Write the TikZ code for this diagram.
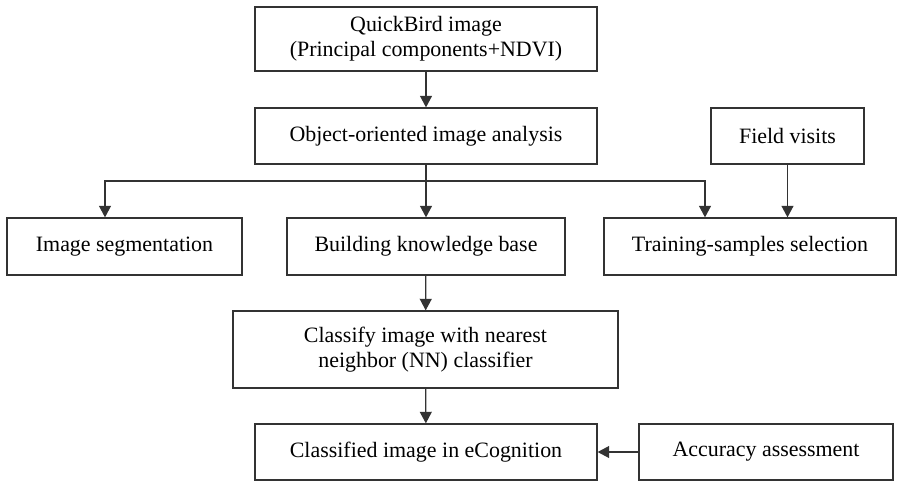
\documentclass[tikz,border=0pt]{standalone}
\usepackage{fontspec}
\setmainfont{Liberation Serif}
\usepackage{tikz}
\usetikzlibrary{arrows.meta, positioning, calc}
\tikzset{
  stepbox/.style={
    draw=black!80, line width=0.9pt, align=center,
    font=\fontsize{15.6}{18}\selectfont, fill=white,
    minimum height=1.4cm, inner sep=2pt
  },
  flowline/.style={
    line width=0.9pt, draw=black!80
  },
  flowarrow/.style={
    -{Triangle[length=2.9mm, width=3mm]}, line width=0.9pt,
    draw=black!80
  },
}
\begin{document}
\begin{tikzpicture}
  \useasboundingbox (0,0) rectangle (22.425,-12.025);

  % Input and analysis
  \node[stepbox, minimum width=8.55cm, minimum height=1.6cm]
    (quickbird) at (10.65,-0.975)
    {QuickBird image\\(Principal components+NDVI)};
  \node[stepbox, minimum width=8.55cm] (ooa) at (10.65,-3.4)
    {Object-oriented image analysis};
  \node[stepbox, minimum width=3.825cm] (field) at (19.6875,-3.4)
    {Field visits};

  % Three branches
  \node[stepbox, minimum width=5.875cm, minimum height=1.425cm]
    (segment) at (3.1125,-6.1625) {Image segmentation};
  \node[stepbox, minimum width=6.95cm, minimum height=1.425cm]
    (knowledge) at (10.65,-6.1625) {Building knowledge base};
  \node[stepbox, minimum width=7.3cm, minimum height=1.425cm]
    (training) at (18.75,-6.1625) {Training-samples selection};

  % Classification
  \node[stepbox, minimum width=9.625cm, minimum height=1.925cm]
    (classify) at (10.6375,-8.7375)
    {Classify image with nearest\\neighbor (NN) classifier};
  \node[stepbox, minimum width=8.55cm] (classified) at (10.65,-11.3)
    {Classified image in eCognition};
  \node[stepbox, minimum width=6.35cm] (accuracy) at (19.15,-11.3)
    {Accuracy assessment};

  % Connectors
  \coordinate (hub) at (10.65,-4.525);
  \draw[flowarrow] (quickbird) -- (ooa);
  \draw[flowline] (ooa.south) -- (hub);
  \draw[flowarrow] (hub) -- (knowledge.north);
  \draw[flowarrow] (hub) -| ([xshift=-0.4875cm]segment.north);
  \draw[flowarrow] (hub) -| ([xshift=-1.125cm]training.north);
  \draw[flowarrow] (field.south) -- (field.south |- training.north);
  \draw[flowarrow] (knowledge) -- (classify);
  \draw[flowarrow] (classify) -- (classified);
  \draw[flowarrow] (accuracy) -- (classified);
\end{tikzpicture}
\end{document}
